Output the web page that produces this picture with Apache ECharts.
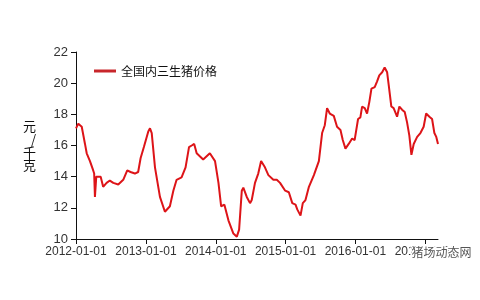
<!DOCTYPE html>
<html>
<head>
<meta charset="utf-8">
<script src="https://cdn.jsdelivr.net/npm/echarts@6/dist/echarts.min.js"></script>
<style>
  html, body { margin: 0; padding: 0; background: #fff; }
  #chart { width: 480px; height: 300px; }
</style>
</head>
<body>
<div id="chart"></div>
<script>
// 全国内三生猪价格 (元/千克)
var dates = [
  "2012-01-01", "2012-01-13", "2012-01-31", "2012-02-17", "2012-02-26", "2012-03-14",
  "2012-03-31", "2012-04-05", "2012-04-09", "2012-04-16", "2012-04-21", "2012-05-09",
  "2012-05-22", "2012-06-09", "2012-06-26", "2012-07-14", "2012-08-09", "2012-09-04",
  "2012-09-25", "2012-10-12", "2012-11-04", "2012-11-21", "2012-12-04", "2012-12-21",
  "2013-01-13", "2013-01-22", "2013-01-31", "2013-02-17", "2013-03-15", "2013-04-10",
  "2013-05-06", "2013-05-24", "2013-06-10", "2013-07-06", "2013-07-27", "2013-08-14",
  "2013-08-28", "2013-09-10", "2013-09-23", "2013-10-27", "2013-12-01", "2013-12-28",
  "2014-01-15", "2014-01-29", "2014-02-15", "2014-03-08", "2014-04-03", "2014-04-21",
  "2014-05-03", "2014-05-17", "2014-05-25", "2014-06-12", "2014-06-29", "2014-07-08",
  "2014-07-25", "2014-08-11", "2014-08-26", "2014-09-15", "2014-10-03", "2014-10-29",
  "2014-11-16", "2014-12-03", "2014-12-30", "2015-01-18", "2015-02-05", "2015-02-22",
  "2015-03-03", "2015-03-20", "2015-04-01", "2015-04-15", "2015-05-03", "2015-05-29",
  "2015-06-24", "2015-07-11", "2015-07-25", "2015-08-06", "2015-08-20", "2015-09-10",
  "2015-09-27", "2015-10-15", "2015-10-27", "2015-11-10", "2015-11-27", "2015-12-15",
  "2015-12-28", "2016-01-15", "2016-01-27", "2016-02-05", "2016-02-19", "2016-03-02",
  "2016-03-14", "2016-03-25", "2016-04-11", "2016-04-23", "2016-05-05", "2016-05-20",
  "2016-06-02", "2016-06-15", "2016-06-23", "2016-07-07", "2016-07-19", "2016-08-06",
  "2016-08-18", "2016-09-01", "2016-09-15", "2016-09-27", "2016-10-09", "2016-10-20",
  "2016-11-01", "2016-11-19", "2016-12-06", "2016-12-23", "2017-01-05", "2017-01-22",
  "2017-02-05", "2017-02-17", "2017-02-27", "2017-03-08"
];
var prices = [
  17.1, 17.4, 17.2, 16.1, 15.5, 15.0,
  14.4, 14.2, 12.7, 14.0, 14.0, 14.0,
  13.35, 13.6, 13.75, 13.6, 13.5, 13.8,
  14.4, 14.3, 14.2, 14.3, 15.2, 15.9,
  16.9, 17.1, 16.8, 14.6, 12.7, 11.75,
  12.1, 13.1, 13.8, 13.95, 14.6, 15.9,
  16.0, 16.1, 15.5, 15.1, 15.5, 15.0,
  13.6, 12.1, 12.2, 11.2, 10.35, 10.15,
  10.6, 13.1, 13.3, 12.7, 12.3, 12.5,
  13.6, 14.2, 15.0, 14.6, 14.1, 13.8,
  13.8, 13.6, 13.1, 13.0, 12.3, 12.2,
  11.9, 11.5, 12.3, 12.5, 13.35, 14.1,
  15.0, 16.8, 17.3, 18.4, 18.05, 17.9,
  17.2, 17.0, 16.35, 15.8, 16.1, 16.45,
  16.35, 17.7, 17.8, 18.5, 18.4, 18.05,
  18.8, 19.65, 19.75, 20.1, 20.5, 20.7,
  21.0, 20.7, 19.9, 18.5, 18.4, 17.85,
  18.5, 18.3, 18.15, 17.5, 16.65, 15.4,
  16.1, 16.55, 16.8, 17.2, 18.05, 17.85,
  17.7, 16.8, 16.55, 16.1
];
var yTicks = [10, 12, 14, 16, 18, 20, 22];

var chart = echarts.init(document.getElementById("chart"));
var font = "'Liberation Sans', Arial, sans-serif";
var YEAR = 365 * 24 * 3600 * 1000;

chart.setOption({
  animation: false,
  textStyle: { fontFamily: font },
  legend: {
    left: 89,
    top: 60,
    icon: "rect",
    itemWidth: 22,
    itemHeight: 3,
    itemGap: 4,
    textStyle: { color: "#111", fontSize: 12, fontFamily: "'Noto Sans CJK SC', sans-serif" },
    data: ["全国内三生猪价格"]
  },
  grid: { left: 76, right: 42, top: 52, bottom: 61 },
  xAxis: {
    type: "time",
    min: dates[0],
    max: dates[dates.length - 1],
    minInterval: YEAR,
    maxInterval: YEAR,
    axisLine: { lineStyle: { color: "#111", width: 1 } },
    axisTick: { show: true, length: 5, lineStyle: { color: "#111" } },
    axisLabel: {
      color: "#333",
      fontSize: 12,
      margin: 7,
      formatter: "{yyyy}-{MM}-{dd}",
      showMaxLabel: false
    },
    splitLine: { show: false }
  },
  yAxis: {
    type: "value",
    min: yTicks[0],
    max: yTicks[yTicks.length - 1],
    interval: 2,
    name: "元\n/\n千\n克",
    nameLocation: "middle",
    nameRotate: 0,
    nameGap: 40,
    nameTextStyle: { color: "#111", fontSize: 13, lineHeight: 13, padding: [0, 0, 8, 0], fontFamily: "'Noto Sans CJK SC', sans-serif" },
    axisLine: { show: true, lineStyle: { color: "#111", width: 1 } },
    axisTick: { show: true, length: 5, lineStyle: { color: "#111" } },
    axisLabel: { color: "#333", fontSize: 13, margin: 8 },
    splitLine: { show: false }
  },
  graphic: [{
    type: "text",
    left: 410,
    top: 245,
    z: 100,
    style: {
      text: "猪场动态网",
      fill: "#555",
      font: "12px 'Noto Sans CJK SC', sans-serif",
      stroke: "#fff",
      lineWidth: 3
    }
  }],
  series: [{
    name: "全国内三生猪价格",
    type: "line",
    symbol: "none",
    data: dates.map(function (d, i) { return [d, prices[i]]; }),
    lineStyle: { color: "#dd1418", width: 2 },
    itemStyle: { color: "#c8262b" }
  }]
});
</script>
</body>
</html>
